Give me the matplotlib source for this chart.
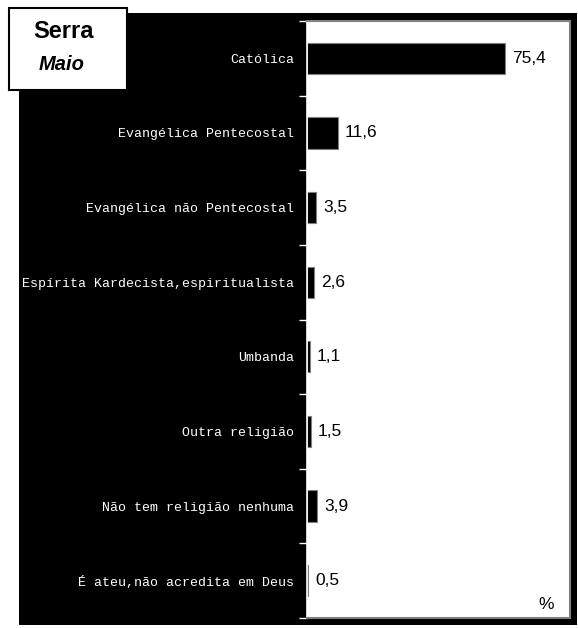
import matplotlib.pyplot as plt
from matplotlib.patches import Rectangle

categorias = ["Católica", "Evangélica Pentecostal", "Evangélica não Pentecostal",
              "Espírita Kardecista,espiritualista", "Umbanda", "Outra religião",
              "Não tem religião nenhuma", "É ateu,não acredita em Deus"]
valores = [75.4, 11.6, 3.5, 2.6, 1.1, 1.5, 3.9, 0.5]
rotulos = ["75,4", "11,6", "3,5", "2,6", "1,1", "1,5", "3,9", "0,5"]

W, H = 578, 628
fig = plt.figure(figsize=(W / 100, H / 100), dpi=100)
fig.patch.set_facecolor("white")

# fundo preto atras de tudo
fig.patches.append(Rectangle((19 / W, 3 / H), (577 - 19) / W, (615 - 3) / H,
                             transform=fig.transFigure, facecolor="black",
                             edgecolor="none", zorder=-1))

ax = fig.add_axes([307 / W, 10 / H, (570 - 307) / W, (607 - 10) / H])
ax.set_zorder(1)
ax.set_facecolor("white")

pos = list(range(len(categorias)))
ax.barh(pos, valores, height=0.42, color="black", edgecolor="#808080", linewidth=0.8)
for p, v, r in zip(pos, valores, rotulos):
    ax.annotate(r, (v, p), xytext=(5, 0), textcoords="offset points",
                va="center", ha="left", fontsize=12.5, family="Liberation Sans")

ax.set_xlim(0, 100)
ax.set_ylim(len(categorias) - 0.5, -0.5)
ax.set_xticks([])

# tracos nas divisas, nomes no meio
ax.set_yticks([i - 0.5 for i in range(len(categorias) + 1)])
ax.set_yticklabels([])
ax.tick_params(axis="y", which="major", length=6, color="white", width=1)
ax.set_yticks(pos, minor=True)
ax.set_yticklabels(categorias, minor=True, color="white", fontsize=9.5,
                   family="Liberation Mono")
ax.tick_params(axis="y", which="minor", length=0, pad=9)

for s in ["top", "right", "bottom"]:
    ax.spines[s].set_color("#808080")
    ax.spines[s].set_linewidth(1.5)
ax.spines["left"].set_color("white")
ax.spines["left"].set_linewidth(1.2)

ax.text(0.91, 0.01, "%", transform=ax.transAxes, ha="center", va="bottom",
        fontsize=12.5, family="Liberation Sans")

# caixa do titulo
fig.patches.append(Rectangle((9 / W, 1 - 90 / H), (127 - 9) / W, (90 - 8) / H,
                             transform=fig.transFigure, facecolor="white",
                             edgecolor="black", linewidth=1.5, zorder=5))
fig.text(64 / W, 1 - 32 / H, "Serra", ha="center", va="center", fontsize=17,
         fontweight="bold", family="Liberation Sans", zorder=6)
fig.text(62 / W, 1 - 65 / H, "Maio", ha="center", va="center", fontsize=14.5,
         fontweight="bold", style="italic", family="Liberation Sans", zorder=6)

fig.savefig("out.png", dpi=100)
